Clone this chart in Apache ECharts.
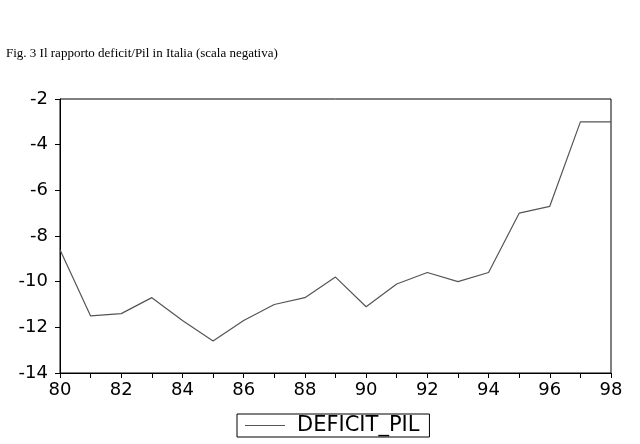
<!DOCTYPE html>
<html><head><meta charset="utf-8">
<script src="https://cdn.jsdelivr.net/npm/echarts@6/dist/echarts.min.js"></script>
<style>html,body{margin:0;padding:0;background:#fff}#c{width:640px;height:444px}</style>
</head><body><div id="c"></div>
<script>
const years = [80,81,82,83,84,85,86,87,88,89,90,91,92,93,94,95,96,97,98];
const deficitPil = [-8.6,-11.5,-11.4,-10.7,-11.7,-12.6,-11.7,-11.0,-10.7,-9.8,-11.1,-10.1,-9.6,-10.0,-9.6,-7.0,-6.7,-3.0,-3.0];
const seriesName = 'DEFICIT_PIL';
const titleText = 'Fig. 3 Il rapporto deficit/Pil in Italia (scala negativa)';

const chart = echarts.init(document.getElementById('c'), null, {renderer:'canvas'});
chart.setOption({
  animation:false,
  backgroundColor:'#fff',
  title:{text:titleText,left:1,top:42,textStyle:{fontFamily:'Liberation Serif',fontSize:13,fontWeight:'normal',color:'#000'}},
  grid:{left:60,right:29,top:99,bottom:71,show:true,borderColor:'#000',borderWidth:1,backgroundColor:'transparent'},
  legend:{top:414,left:237,data:[seriesName],borderColor:'#000',borderWidth:1,padding:[1,10,1,8],
    icon:'path://M0,0 L40,0 L40,1 L0,1 Z',itemWidth:40,itemHeight:1,itemGap:0,
    textStyle:{fontFamily:'DejaVu Sans',fontSize:21,color:'#000',padding:[0,0,0,7]}},
  xAxis:{type:'value',min:80,max:98,interval:1,
    axisLine:{lineStyle:{color:'#000'}},axisTick:{show:true,length:5,lineStyle:{color:'#000'}},
    splitLine:{show:false},
    axisLabel:{color:'#000',fontFamily:'DejaVu Sans',fontSize:18,margin:8,formatter:v=> (v%2===0? String(v):'')}},
  yAxis:{type:'value',min:-14,max:-2,interval:2,
    axisLine:{show:true,lineStyle:{color:'#000'}},axisTick:{show:true,length:5,lineStyle:{color:'#000'}},
    splitLine:{show:false},
    axisLabel:{color:'#000',fontFamily:'DejaVu Sans',fontSize:18,margin:12}},
  series:[{name:seriesName,type:'line',data:years.map((y,i)=>[y,deficitPil[i]]),
    showSymbol:false,lineStyle:{color:'#555',width:1.2},itemStyle:{color:'#555'}}]
});
</script></body></html>
